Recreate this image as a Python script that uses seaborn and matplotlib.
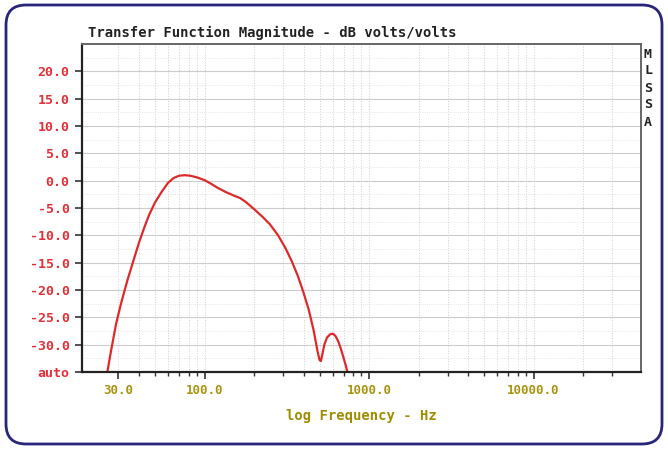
import numpy as np
import pandas as pd
import matplotlib
matplotlib.use("Agg")
import matplotlib.pyplot as plt
from matplotlib.patches import FancyBboxPatch
from matplotlib.ticker import FixedLocator, NullFormatter
import seaborn as sns

# magnitude response (Hz, dB)
freq = [25.5, 27, 29, 31, 34, 37, 40, 43, 46, 50, 55, 60, 65, 70, 76, 82, 90,
        100, 110, 120, 135, 150, 165, 180, 200, 225, 250, 280, 310, 340, 370,
        400, 430, 460, 485, 500, 510, 520, 535, 555, 580, 604, 625, 650, 675,
        700, 725, 745]
db = [-35.5, -31.2, -26.2, -22.6, -18.2, -14.6, -11.3, -8.6, -6.3, -4.0, -2.0,
      -0.4, 0.5, 0.9, 1.0, 0.9, 0.6, 0.1, -0.6, -1.3, -2.1, -2.7, -3.2, -4.0,
      -5.2, -6.6, -8.0, -10.0, -12.3, -14.8, -17.5, -20.5, -23.6, -27.3, -31.0,
      -32.8, -33.0, -31.8, -30.0, -28.7, -28.1, -28.0, -28.4, -29.4, -30.8,
      -32.4, -34.0, -35.5]

y_ticks = [-35, -30, -25, -20, -15, -10, -5, 0, 5, 10, 15, 20]
y_labels = ["auto"] + [f"{v:.1f}" for v in y_ticks[1:]]
x_major = [30, 100, 1000, 10000]
x_labels = ["30.0", "100.0", "1000.0", "10000.0"]

df = pd.DataFrame({"freq": freq, "db": db})

sns.set_style("white")
plt.rcParams['font.family'] = ['DejaVu Sans Mono', 'DejaVu Sans']

fig = plt.figure(figsize=(6.68, 4.49), dpi=100)
ax = fig.add_axes([82 / 668, 1 - 372 / 449, (641 - 82) / 668, (372 - 44) / 449])

sns.lineplot(data=df, x="freq", y="db", ax=ax, color="#dc2a2a", linewidth=1.6,
             sort=False, estimator=None)
ax.set_xscale("log")
ax.set_xlim(18, 45000)
ax.set_ylim(-35, 25)

# ticks
minor = [m * 10 ** e for e in range(1, 5) for m in range(2, 10)
         if 30 < m * 10 ** e < 40000 and m * 10 ** e not in x_major]
ax.xaxis.set_major_locator(FixedLocator(x_major))
ax.xaxis.set_minor_locator(FixedLocator(minor))
ax.xaxis.set_minor_formatter(NullFormatter())
ax.set_xticklabels(x_labels, color="#a89410", fontsize=9, fontweight="bold")
ax.set_yticks(y_ticks)
ax.set_yticklabels(y_labels, color="#e03038", fontsize=9.5, fontweight="bold")
ax.set_yticks(np.arange(-35, 25.1, 2.5), minor=True)
ax.tick_params(axis="both", which="major", direction="out", length=5, width=1.2,
               color="#333333", left=True, bottom=True, pad=4)
ax.tick_params(axis="x", which="minor", direction="out", length=3, width=1.0,
               color="#333333", bottom=True)
ax.tick_params(axis="y", which="minor", left=False)

# grid
ax.grid(True, which="major", axis="y", color="#cccccc", linewidth=0.8)
ax.grid(True, which="minor", axis="y", color="#dddddd", linewidth=0.6, linestyle=":")
ax.grid(True, which="both", axis="x", color="#cfcfcf", linewidth=0.7, linestyle=":")

for side in ["left", "bottom"]:
    ax.spines[side].set_color("#222222")
    ax.spines[side].set_linewidth(1.6)
for side in ["top", "right"]:
    ax.spines[side].set_color("#666666")
    ax.spines[side].set_linewidth(1.4)

ax.set_xlabel("log Frequency - Hz", color="#a08c00", fontsize=10, fontweight="bold",
              labelpad=8)
ax.set_ylabel("")
ax.set_title("Transfer Function Magnitude - dB volts/volts", loc="left",
             fontsize=10, fontweight="bold", color="#222222", pad=5, x=0.01)

fig.text(648 / 668, 1 - 88 / 449, "M\nL\nS\nS\nA", ha="center", va="center",
         fontsize=9.5, fontweight="bold", color="#222222", linespacing=1.4)

# rounded frame around the whole picture
frame = FancyBboxPatch((0.06, 0.05), 6.56, 4.39,
                       boxstyle="round,pad=0,rounding_size=0.2",
                       transform=fig.dpi_scale_trans, facecolor="none",
                       edgecolor="#29257a", linewidth=2.0)
fig.patches.append(frame)

fig.savefig("out.png", dpi=100, facecolor="white")
